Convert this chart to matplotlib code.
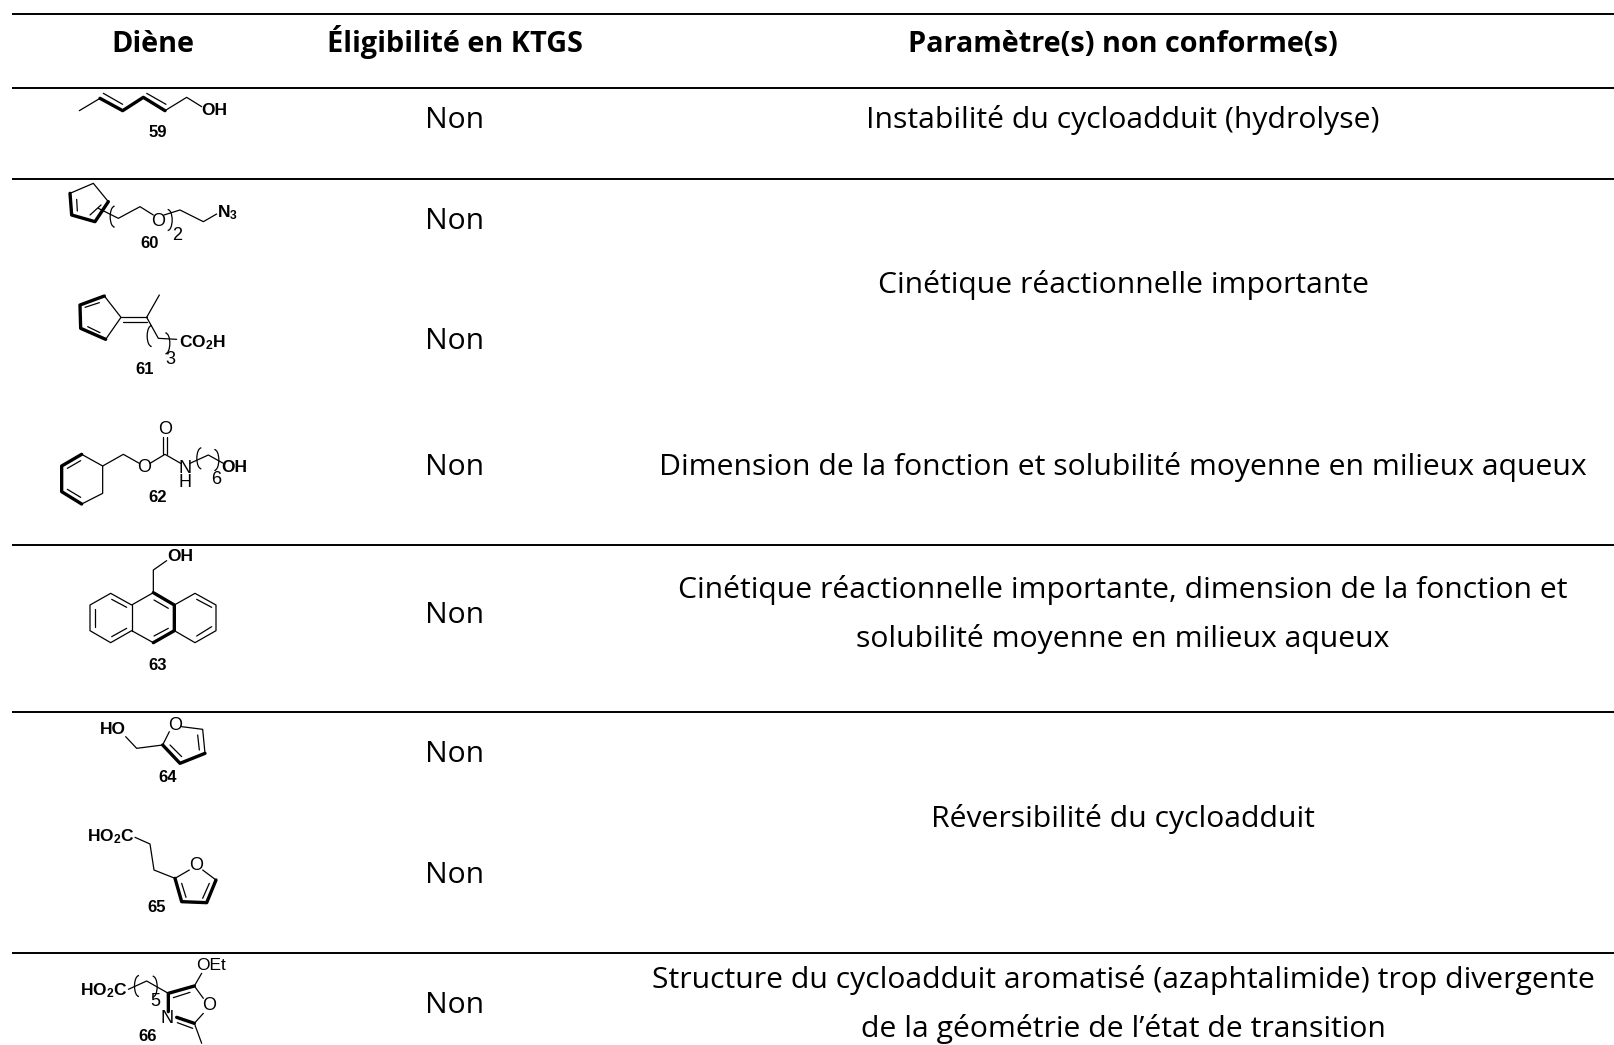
import matplotlib
matplotlib.use('Agg')
import matplotlib.pyplot as plt
from matplotlib.patches import Arc

plt.rcParams['mathtext.fontset'] = 'custom'
plt.rcParams['mathtext.bf'] = 'Liberation Sans:bold'
plt.rcParams['mathtext.rm'] = 'Liberation Sans'

headers = ['Diène', 'Éligibilité en KTGS', 'Paramètre(s) non conforme(s)']
eligibility = ['Non'] * 8
parameters = [
    'Instabilité du cycloadduit (hydrolyse)',
    'Cinétique réactionnelle importante',
    'Dimension de la fonction et solubilité moyenne en milieux aqueux',
    'Cinétique réactionnelle importante, dimension de la fonction et',
    'solubilité moyenne en milieux aqueux',
    'Réversibilité du cycloadduit',
    'Structure du cycloadduit aromatisé (azaphtalimide) trop divergente',
    'de la géométrie de l’état de transition',
]
compounds = ['59', '60', '61', '62', '63', '64', '65', '66']

eligibility_y = [128, 229, 349, 475, 623, 762, 883, 1013]
parameters_y = [128, 293, 475, 598, 647, 827, 988, 1037]
rules_y = [13.5, 87.5, 178.5, 545, 712, 953]

fig = plt.figure(figsize=(16.14, 10.45), dpi=100)
ax = fig.add_axes([0, 0, 1, 1])
ax.set_xlim(0, 1614)
ax.set_ylim(1045, 0)
ax.axis('off')

for y in rules_y:
    ax.plot([12, 1614], [y, y], color='black', lw=1.4, solid_capstyle='butt')

MAIN = 'Open Sans'
BODY = 21.7
HEAD = 20.8
ax.text(152.5, 52, headers[0], family=MAIN, weight='bold', size=HEAD, ha='center', va='baseline')
ax.text(455, 52, headers[1], family=MAIN, weight='bold', size=HEAD, ha='center', va='baseline')
ax.text(1123, 52, headers[2], family=MAIN, weight='bold', size=HEAD, ha='center', va='baseline')
for label, y in zip(eligibility, eligibility_y):
    ax.text(455, y, label, family=MAIN, size=BODY, ha='center', va='baseline')
for label, y in zip(parameters, parameters_y):
    ax.text(1123, y, label, family=MAIN, size=BODY, ha='center', va='baseline')


# the structures were measured on 3x crops, so everything goes through this
def draw(ox, oy, thin=(), bold=(), labels=()):
    for pts in thin:
        ax.plot([ox + p[0] / 3 for p in pts], [oy + p[1] / 3 for p in pts],
                color='black', lw=0.9, solid_capstyle='round', solid_joinstyle='round')
    for pts in bold:
        ax.plot([ox + p[0] / 3 for p in pts], [oy + p[1] / 3 for p in pts],
                color='black', lw=2.4, solid_capstyle='round', solid_joinstyle='round')
    for x, y, s, w, size in labels:
        ax.text(ox + x / 3, oy + y / 3, s, family='Liberation Sans', weight=w, size=size,
                ha='center', va='center')


def paren(ox, oy, x, y, side):
    if side == '(':
        t1, t2 = 90, 270
    else:
        t1, t2 = -90, 90
    ax.add_patch(Arc((ox + x / 3, oy + y / 3), 9, 21, theta1=t1, theta2=t2, color='black', lw=0.9))


# 59
draw(40, 80,
     thin=[[(118, 92), (180, 55)], [(190, 40), (248, 73)], [(320, 40), (378, 73)],
           [(375, 92), (440, 52), (485, 80)]],
     bold=[[(180, 55), (248, 92), (310, 52), (375, 92)]],
     labels=[(522, 92, 'OH', 'bold', 12.5), (353, 158, compounds[0], 'bold', 12)])

# 60
draw(40, 80,
     thin=[[(90, 340), (160, 310), (205, 365)], [(110, 358), (112, 393)], [(183, 375), (150, 405)],
           [(175, 385), (235, 415), (300, 380), (340, 405)], [(372, 405), (420, 390), (490, 425), (530, 402)]],
     bold=[[(205, 365), (165, 425), (95, 405), (90, 340)]],
     labels=[(355, 423, 'O', 'normal', 13), (562, 397, r'$\mathbf{N_3}$', 'bold', 12.5),
             (412, 465, '2', 'normal', 13), (330, 492, compounds[1], 'bold', 12)])
paren(40, 80, 224, 410, '(')
paren(40, 80, 383, 420, ')')

# 61
draw(40, 80,
     thin=[[(193, 648), (243, 712), (197, 778)], [(135, 682), (178, 668)], [(143, 740), (180, 758)],
           [(243, 712), (320, 712)], [(248, 727), (320, 727)], [(320, 712), (358, 645)],
           [(320, 712), (355, 775), (410, 778)]],
     bold=[[(193, 648), (120, 675), (122, 745), (197, 778)]],
     labels=[(487, 787, r'$\mathbf{CO_2H}$', 'bold', 12.5), (392, 838, '3', 'normal', 13),
             (315, 870, compounds[2], 'bold', 12)])
paren(40, 80, 335, 768, '(')
paren(40, 80, 376, 790, ')')

# 62
draw(40, 400,
     thin=[[(125, 163), (188, 198), (188, 280), (125, 312)], [(82, 205), (122, 182)], [(82, 268), (122, 292)],
           [(188, 198), (250, 163), (298, 190)], [(330, 190), (375, 163), (422, 190)],
           [(370, 163), (370, 110)], [(381, 163), (381, 110)], [(450, 190), (505, 165), (550, 190)]],
     bold=[[(125, 163), (65, 198), (65, 275), (125, 312)]],
     labels=[(313, 203, 'O', 'normal', 13), (375, 88, 'O', 'normal', 13), (435, 205, 'N', 'normal', 13),
             (435, 248, 'H', 'normal', 13), (530, 240, '6', 'normal', 13), (582, 203, 'OH', 'bold', 12.5),
             (353, 292, compounds[3], 'bold', 12)])
paren(40, 400, 484, 175, '(')
paren(40, 400, 523, 180, ')')

# 63
draw(40, 400,
     thin=[[(380, 482), (340, 510), (340, 578)], [(340, 578), (275, 615), (212, 580), (150, 615), (150, 692),
                                                   (212, 728), (275, 692), (340, 728)],
           [(275, 615), (275, 692)], [(403, 615), (465, 580), (528, 615), (528, 692), (465, 728), (403, 692)],
           [(215, 598), (260, 622)], [(165, 628), (165, 680)], [(215, 710), (260, 685)],
           [(342, 600), (385, 625)], [(342, 708), (385, 685)], [(470, 598), (515, 622)],
           [(515, 680), (470, 708)]],
     bold=[[(340, 578), (403, 615), (403, 692), (340, 728)]],
     labels=[(420, 470, 'OH', 'bold', 12.5), (353, 795, compounds[4], 'bold', 12)])

# 64
draw(60, 700,
     thin=[[(197, 110), (230, 145), (308, 135)], [(308, 135), (328, 95)], [(365, 80), (428, 88), (435, 160)],
           [(413, 105), (418, 150)], [(330, 135), (365, 170)]],
     bold=[[(308, 135), (360, 190), (435, 160)]],
     labels=[(345, 75, 'O', 'normal', 13), (158, 88, 'HO', 'bold', 12.5), (323, 232, compounds[5], 'bold', 12)])

# 65
draw(60, 700,
     thin=[[(225, 412), (270, 432), (282, 510), (345, 535), (388, 510)], [(428, 510), (468, 540)],
           [(365, 550), (378, 592)], [(448, 550), (428, 595)]],
     bold=[[(345, 535), (365, 605), (440, 608), (468, 540)]],
     labels=[(408, 495, 'O', 'normal', 13), (152, 410, r'$\mathbf{HO_2C}$', 'bold', 12.5),
             (290, 622, compounds[6], 'bold', 12)])

# 66
draw(60, 700,
     thin=[[(205, 868), (260, 843), (325, 880)], [(340, 893), (390, 877)], [(403, 858), (430, 895)],
           [(430, 940), (403, 970), (425, 1030)], [(403, 858), (425, 820)], [(352, 968), (398, 985)]],
     bold=[[(403, 858), (325, 880), (325, 935)], [(350, 952), (403, 970)]],
     labels=[(448, 918, 'O', 'normal', 13), (322, 955, 'N', 'normal', 13), (452, 798, 'OEt', 'normal', 12.5),
             (130, 872, r'$\mathbf{HO_2C}$', 'bold', 12.5), (287, 905, '5', 'normal', 13),
             (262, 1010, compounds[7], 'bold', 12)])
paren(60, 700, 237, 858, '(')
paren(60, 700, 278, 860, ')')

fig.savefig('out.png', dpi=100)
